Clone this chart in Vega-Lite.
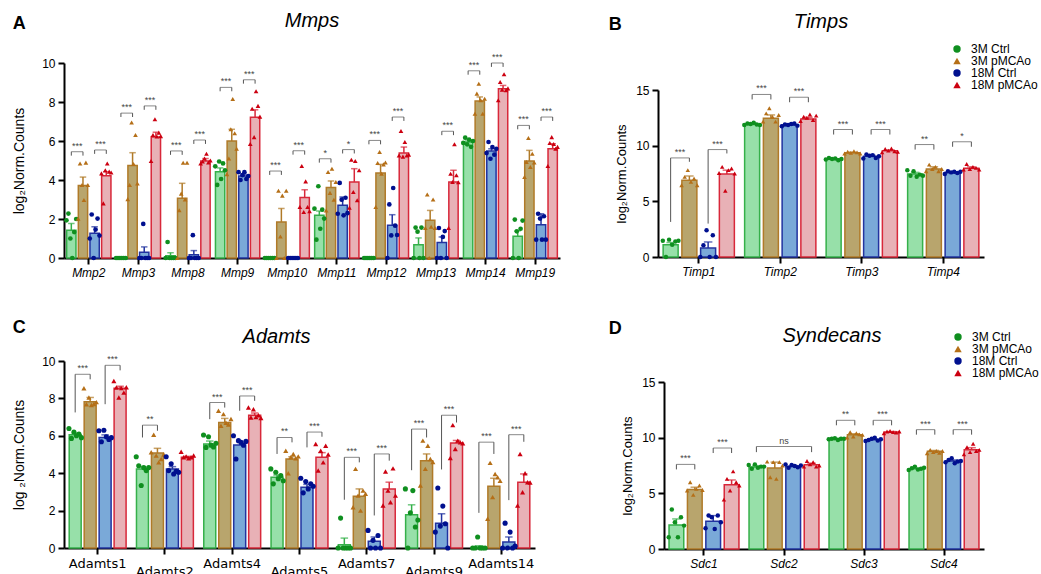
{
"$schema":"https://vega.github.io/schema/vega-lite/v6.json",
"background":"white",
"padding":{"left":12,"top":11,"right":0,"bottom":0},
"config":{
 "font":"Liberation Sans",
 "view":{"stroke":null},
 "axis":{"domainColor":"#000","domainWidth":2,"tickColor":"#000","tickWidth":2,"tickSize":6,"labelColor":"#000","titleColor":"#000","labelFont":"Liberation Sans","titleFont":"Liberation Sans","titleFontWeight":"normal","grid":false,"labelFontSize":12,"labelOverlap":false},
 "legend":{"labelFont":"Liberation Sans","labelFontSize":12,"labelColor":"#000","symbolStrokeWidth":0,"symbolSize":55,"labelOffset":8},
 "title":{"font":"Liberation Sans","color":"#000"}
},
"datasets":{
"bars":[
{"p":"A","g":"Mmp2","grp":"3M Ctrl","m":1.42,"hi":1.77,"v":[1.93,2.28,1.0,0,1.33,2.0]},
{"p":"A","g":"Mmp2","grp":"3M pMCAo","m":3.72,"hi":4.15,"v":[2.02,4.85,3.74,2.97,4.89,3.74]},
{"p":"A","g":"Mmp2","grp":"18M Ctrl","m":1.27,"hi":1.6,"v":[1.0,2.23,0,1.46,2.02,1.15]},
{"p":"A","g":"Mmp2","grp":"18M pMCAo","m":4.22,"hi":4.42,"v":[4.34,2.8,4.5,4.85,4.43,4.38]},
{"p":"A","g":"Mmp3","grp":"3M Ctrl","m":0,"hi":0,"v":[0,0,0,0,0,0]},
{"p":"A","g":"Mmp3","grp":"3M pMCAo","m":4.75,"hi":5.4,"v":[3.02,3.74,6.95,4.82,6.31,3.82]},
{"p":"A","g":"Mmp3","grp":"18M Ctrl","m":0.29,"hi":0.57,"v":[0,0,1.75,0,0,0]},
{"p":"A","g":"Mmp3","grp":"18M pMCAo","m":6.2,"hi":6.45,"v":[4.97,6.31,7.12,6.23,6.43,6.25]},
{"p":"A","g":"Mmp8","grp":"3M Ctrl","m":0.12,"hi":0.27,"v":[0,0.82,0,0,0,0]},
{"p":"A","g":"Mmp8","grp":"3M pMCAo","m":3.07,"hi":3.83,"v":[0,2.45,3.3,4.88,3.0,4.88]},
{"p":"A","g":"Mmp8","grp":"18M Ctrl","m":0.17,"hi":0.38,"v":[0,0,1.17,0,0,0]},
{"p":"A","g":"Mmp8","grp":"18M pMCAo","m":4.97,"hi":5.1,"v":[4.85,4.95,5.1,5.35,4.9,5.0]},
{"p":"A","g":"Mmp9","grp":"3M Ctrl","m":4.42,"hi":4.62,"v":[4.7,3.75,4.95,4.05,4.85,4.5]},
{"p":"A","g":"Mmp9","grp":"3M pMCAo","m":6.0,"hi":6.6,"v":[4.3,5.1,6.6,8.15,6.4,5.6]},
{"p":"A","g":"Mmp9","grp":"18M Ctrl","m":4.2,"hi":4.3,"v":[4.4,4.0,4.25,4.4,4.05,4.2]},
{"p":"A","g":"Mmp9","grp":"18M pMCAo","m":7.22,"hi":7.6,"v":[5.85,7.65,6.2,8.55,7.8,7.25]},
{"p":"A","g":"Mmp10","grp":"3M Ctrl","m":0,"hi":0,"v":[0,0,0,0,0,0]},
{"p":"A","g":"Mmp10","grp":"3M pMCAo","m":1.85,"hi":2.54,"v":[0,3.45,1.1,3.2,0,3.45]},
{"p":"A","g":"Mmp10","grp":"18M Ctrl","m":0,"hi":0,"v":[0,0,0,0,0,0]},
{"p":"A","g":"Mmp10","grp":"18M pMCAo","m":3.1,"hi":3.5,"v":[2.62,4.72,2.36,3.93,2.62,2.4]},
{"p":"A","g":"Mmp11","grp":"3M Ctrl","m":2.19,"hi":2.41,"v":[2.53,0.94,3.68,1.5,2.48,2.02]},
{"p":"A","g":"Mmp11","grp":"3M pMCAo","m":3.61,"hi":3.95,"v":[2.44,4.41,3.34,4.58,2.99,3.9]},
{"p":"A","g":"Mmp11","grp":"18M Ctrl","m":2.7,"hi":3.13,"v":[2.27,3.85,2.99,2.19,3.09,2.3]},
{"p":"A","g":"Mmp11","grp":"18M pMCAo","m":3.9,"hi":4.58,"v":[2.58,5.04,3.38,4.97,2.96,4.5]},
{"p":"A","g":"Mmp12","grp":"3M Ctrl","m":0,"hi":0,"v":[0,0,0,0,0,0]},
{"p":"A","g":"Mmp12","grp":"3M pMCAo","m":4.36,"hi":4.8,"v":[2.62,4.87,5.44,4.32,4.8,4.9]},
{"p":"A","g":"Mmp12","grp":"18M Ctrl","m":1.68,"hi":2.22,"v":[0,2.75,1.16,3.59,1.66,1.18]},
{"p":"A","g":"Mmp12","grp":"18M pMCAo","m":5.38,"hi":5.69,"v":[5.26,6.51,5.2,5.95,5.26,5.3]},
{"p":"A","g":"Mmp13","grp":"3M Ctrl","m":0.68,"hi":1.03,"v":[0,1.56,1.35,0,1.56,0]},
{"p":"A","g":"Mmp13","grp":"3M pMCAo","m":1.93,"hi":2.44,"v":[1.54,3.26,0,1.6,3.0,1.54]},
{"p":"A","g":"Mmp13","grp":"18M Ctrl","m":0.79,"hi":1.08,"v":[0,1.54,0,1.08,1.38,0]},
{"p":"A","g":"Mmp13","grp":"18M pMCAo","m":3.9,"hi":4.5,"v":[1.54,4.32,3.9,5.83,4.24,3.88]},
{"p":"A","g":"Mmp14","grp":"3M Ctrl","m":5.95,"hi":6.05,"v":[5.9,6.17,5.83,6.07,5.7,6.0]},
{"p":"A","g":"Mmp14","grp":"3M pMCAo","m":8.05,"hi":8.26,"v":[7.4,8.43,8.94,8.09,7.4,8.17]},
{"p":"A","g":"Mmp14","grp":"18M Ctrl","m":5.49,"hi":5.6,"v":[5.38,5.95,5.09,5.69,5.3,5.6]},
{"p":"A","g":"Mmp14","grp":"18M pMCAo","m":8.68,"hi":8.85,"v":[8.09,9.03,8.63,9.42,8.6,8.7]},
{"p":"A","g":"Mmp19","grp":"3M Ctrl","m":1.11,"hi":1.4,"v":[0,1.97,1.37,0,1.5,1.92]},
{"p":"A","g":"Mmp19","grp":"3M pMCAo","m":4.97,"hi":5.52,"v":[4.15,4.92,6.15,4.67,5.35,4.9]},
{"p":"A","g":"Mmp19","grp":"18M Ctrl","m":1.71,"hi":2.27,"v":[0.94,2.27,2.02,0.94,2.14,0.94]},
{"p":"A","g":"Mmp19","grp":"18M pMCAo","m":5.6,"hi":5.86,"v":[4.72,5.9,6.2,5.85,5.6,5.7]},
{"p":"B","g":"Timp1","grp":"3M Ctrl","m":1.1,"hi":1.3,"v":[1.45,0,1.56,1.1,1.4,1.45]},
{"p":"B","g":"Timp1","grp":"3M pMCAo","m":6.9,"hi":7.27,"v":[6.45,7.2,7.8,6.75,7.05,6.45]},
{"p":"B","g":"Timp1","grp":"18M Ctrl","m":0.8,"hi":1.35,"v":[0,1.05,2.4,0,1.95,0]},
{"p":"B","g":"Timp1","grp":"18M pMCAo","m":7.45,"hi":7.8,"v":[7.55,8.1,5.95,7.8,7.95,7.5]},
{"p":"B","g":"Timp2","grp":"3M Ctrl","m":11.9,"hi":12.0,"v":[11.85,12.0,11.95,12.05,11.9,11.85]},
{"p":"B","g":"Timp2","grp":"3M pMCAo","m":12.46,"hi":12.76,"v":[12.16,12.9,13.36,12.6,12.16,12.75]},
{"p":"B","g":"Timp2","grp":"18M Ctrl","m":11.85,"hi":11.95,"v":[11.75,11.9,11.85,11.95,12.0,11.8]},
{"p":"B","g":"Timp2","grp":"18M pMCAo","m":12.4,"hi":12.55,"v":[12.2,12.6,12.5,12.8,12.3,12.7]},
{"p":"B","g":"Timp3","grp":"3M Ctrl","m":8.8,"hi":8.85,"v":[8.75,8.9,8.8,8.85,8.7,8.8]},
{"p":"B","g":"Timp3","grp":"3M pMCAo","m":9.37,"hi":9.42,"v":[9.3,9.45,9.35,9.5,9.4,9.3]},
{"p":"B","g":"Timp3","grp":"18M Ctrl","m":9.05,"hi":9.15,"v":[8.85,9.2,9.1,9.15,8.9,9.05]},
{"p":"B","g":"Timp3","grp":"18M pMCAo","m":9.55,"hi":9.62,"v":[9.4,9.7,9.55,9.75,9.5,9.45]},
{"p":"B","g":"Timp4","grp":"3M Ctrl","m":7.45,"hi":7.6,"v":[7.8,7.3,7.7,7.2,7.4,7.3]},
{"p":"B","g":"Timp4","grp":"3M pMCAo","m":7.9,"hi":8.1,"v":[7.7,8.3,7.9,8.1,7.7,7.9]},
{"p":"B","g":"Timp4","grp":"18M Ctrl","m":7.6,"hi":7.65,"v":[7.45,7.7,7.6,7.65,7.55,7.65]},
{"p":"B","g":"Timp4","grp":"18M pMCAo","m":7.98,"hi":8.1,"v":[7.85,8.35,7.9,8.1,8.0,7.85]},
{"p":"C","g":"Adamts1","grp":"3M Ctrl","m":6.06,"hi":6.15,"v":[6.39,5.86,6.2,6.0,6.1,5.9]},
{"p":"C","g":"Adamts1","grp":"3M pMCAo","m":7.82,"hi":8.05,"v":[8.54,7.69,8.05,7.65,7.7,7.8]},
{"p":"C","g":"Adamts1","grp":"18M Ctrl","m":5.91,"hi":6.05,"v":[6.27,5.68,6.3,5.95,5.8,5.9]},
{"p":"C","g":"Adamts1","grp":"18M pMCAo","m":8.54,"hi":8.65,"v":[8.93,8.58,8.05,8.55,8.31,8.6]},
{"p":"C","g":"Adamts2","grp":"3M Ctrl","m":4.23,"hi":4.35,"v":[4.88,4.4,3.34,4.3,4.14,4.3]},
{"p":"C","g":"Adamts2","grp":"3M pMCAo","m":5.08,"hi":5.33,"v":[5.12,6.06,4.94,4.58,4.76,5.0]},
{"p":"C","g":"Adamts2","grp":"18M Ctrl","m":4.23,"hi":4.35,"v":[4.88,4.14,4.5,3.96,4.1,4.05]},
{"p":"C","g":"Adamts2","grp":"18M pMCAo","m":4.85,"hi":4.9,"v":[5.15,4.85,4.9,4.8,4.85,4.95]},
{"p":"C","g":"Adamts4","grp":"3M Ctrl","m":5.56,"hi":5.72,"v":[6.04,5.38,5.95,5.5,5.4,5.6]},
{"p":"C","g":"Adamts4","grp":"3M pMCAo","m":6.71,"hi":6.93,"v":[7.34,6.54,7.16,6.7,6.6,6.9]},
{"p":"C","g":"Adamts4","grp":"18M Ctrl","m":5.51,"hi":5.7,"v":[6.0,4.76,5.74,5.65,5.5,5.7]},
{"p":"C","g":"Adamts4","grp":"18M pMCAo","m":7.1,"hi":7.22,"v":[7.51,6.98,7.42,7.0,7.1,6.95]},
{"p":"C","g":"Adamts5","grp":"3M Ctrl","m":3.78,"hi":3.9,"v":[4.23,3.43,4.05,3.7,3.87,3.6]},
{"p":"C","g":"Adamts5","grp":"3M pMCAo","m":4.76,"hi":4.88,"v":[5.2,4.0,4.85,5.03,4.8,4.9]},
{"p":"C","g":"Adamts5","grp":"18M Ctrl","m":3.25,"hi":3.4,"v":[3.73,2.95,3.55,3.16,3.43,3.3]},
{"p":"C","g":"Adamts5","grp":"18M pMCAo","m":4.85,"hi":5.1,"v":[5.56,4.14,5.2,4.58,5.47,5.0]},
{"p":"C","g":"Adamts7","grp":"3M Ctrl","m":0.18,"hi":0.53,"v":[0,1.6,0,0,0,0]},
{"p":"C","g":"Adamts7","grp":"3M pMCAo","m":2.77,"hi":3.16,"v":[2.18,4.23,2.8,2.0,3.07,2.9]},
{"p":"C","g":"Adamts7","grp":"18M Ctrl","m":0.36,"hi":0.59,"v":[0.94,0,0.41,0,0.67,0]},
{"p":"C","g":"Adamts7","grp":"18M pMCAo","m":3.16,"hi":3.52,"v":[2.27,4.09,3.07,2.45,4.26,2.8]},
{"p":"C","g":"Adamts9","grp":"3M Ctrl","m":1.78,"hi":2.31,"v":[3.16,0,1.88,3.07,1.12,1.5]},
{"p":"C","g":"Adamts9","grp":"3M pMCAo","m":4.67,"hi":5.03,"v":[3.34,5.74,4.23,5.47,4.76,4.6]},
{"p":"C","g":"Adamts9","grp":"18M Ctrl","m":1.33,"hi":1.83,"v":[0.85,3.21,1.17,2.24,1.3,0]},
{"p":"C","g":"Adamts9","grp":"18M pMCAo","m":5.61,"hi":5.75,"v":[4.81,6.57,5.29,5.74,5.65,5.6]},
{"p":"C","g":"Adamts14","grp":"3M Ctrl","m":0.05,"hi":0.12,"v":[0,0,0.59,0,0,0]},
{"p":"C","g":"Adamts14","grp":"3M pMCAo","m":3.3,"hi":3.73,"v":[1.56,4.55,2.72,3.96,3.78,3.6]},
{"p":"C","g":"Adamts14","grp":"18M Ctrl","m":0.32,"hi":0.59,"v":[0,1.33,0,0.85,0,0.1]},
{"p":"C","g":"Adamts14","grp":"18M pMCAo","m":3.52,"hi":3.96,"v":[2.27,5.03,2.98,4.0,3.52,3.5]},
{"p":"D","g":"Sdc1","grp":"3M Ctrl","m":2.16,"hi":2.7,"v":[1.05,3.54,2.4,1.05,2.85,2.1]},
{"p":"D","g":"Sdc1","grp":"3M pMCAo","m":5.35,"hi":5.55,"v":[5.25,6.0,4.86,5.4,5.7,5.3]},
{"p":"D","g":"Sdc1","grp":"18M Ctrl","m":2.49,"hi":3.0,"v":[1.86,3.0,2.85,1.8,3.0,2.4]},
{"p":"D","g":"Sdc1","grp":"18M pMCAo","m":5.77,"hi":6.2,"v":[4.44,6.3,5.25,6.97,6.0,5.7]},
{"p":"D","g":"Sdc2","grp":"3M Ctrl","m":7.36,"hi":7.48,"v":[7.55,7.2,7.6,7.3,7.4,7.4]},
{"p":"D","g":"Sdc2","grp":"3M pMCAo","m":7.27,"hi":7.8,"v":[7.85,6.45,7.8,6.3,7.8,7.5]},
{"p":"D","g":"Sdc2","grp":"18M Ctrl","m":7.42,"hi":7.5,"v":[7.6,7.3,7.55,7.45,7.35,7.5]},
{"p":"D","g":"Sdc2","grp":"18M pMCAo","m":7.57,"hi":7.7,"v":[7.4,7.9,7.6,7.8,7.4,7.5]},
{"p":"D","g":"Sdc3","grp":"3M Ctrl","m":9.9,"hi":9.95,"v":[9.85,9.9,9.95,9.8,9.9,9.9]},
{"p":"D","g":"Sdc3","grp":"3M pMCAo","m":10.27,"hi":10.35,"v":[10.0,10.5,10.1,10.4,10.3,10.25]},
{"p":"D","g":"Sdc3","grp":"18M Ctrl","m":9.82,"hi":9.9,"v":[9.7,9.8,9.9,10.0,9.75,9.85]},
{"p":"D","g":"Sdc3","grp":"18M pMCAo","m":10.5,"hi":10.55,"v":[10.4,10.55,10.6,10.5,10.45,10.55]},
{"p":"D","g":"Sdc4","grp":"3M Ctrl","m":7.2,"hi":7.25,"v":[7.1,7.25,7.4,7.15,7.2,7.3]},
{"p":"D","g":"Sdc4","grp":"3M pMCAo","m":8.77,"hi":8.85,"v":[8.6,8.9,8.7,8.8,8.65,8.8]},
{"p":"D","g":"Sdc4","grp":"18M Ctrl","m":7.9,"hi":8.0,"v":[7.8,8.0,8.15,7.7,7.85,7.9]},
{"p":"D","g":"Sdc4","grp":"18M pMCAo","m":8.92,"hi":9.1,"v":[8.5,9.15,8.7,9.45,8.8,8.9]}
],
"legs":[
{"p":"A","g":"Mmp2","grp":"3M Ctrl","t":5.45,"b":5.25},{"p":"A","g":"Mmp2","grp":"3M pMCAo","t":5.45,"b":5.25},
{"p":"A","g":"Mmp2","grp":"18M Ctrl","t":5.54,"b":5.34},{"p":"A","g":"Mmp2","grp":"18M pMCAo","t":5.54,"b":5.34},
{"p":"A","g":"Mmp3","grp":"3M Ctrl","t":7.43,"b":7.23},{"p":"A","g":"Mmp3","grp":"3M pMCAo","t":7.43,"b":7.23},
{"p":"A","g":"Mmp3","grp":"18M Ctrl","t":7.8,"b":7.6},{"p":"A","g":"Mmp3","grp":"18M pMCAo","t":7.8,"b":7.6},
{"p":"A","g":"Mmp8","grp":"3M Ctrl","t":5.49,"b":5.29},{"p":"A","g":"Mmp8","grp":"3M pMCAo","t":5.49,"b":5.29},
{"p":"A","g":"Mmp8","grp":"18M Ctrl","t":6.05,"b":5.85},{"p":"A","g":"Mmp8","grp":"18M pMCAo","t":6.05,"b":5.85},
{"p":"A","g":"Mmp9","grp":"3M Ctrl","t":8.75,"b":8.55},{"p":"A","g":"Mmp9","grp":"3M pMCAo","t":8.75,"b":8.55},
{"p":"A","g":"Mmp9","grp":"18M Ctrl","t":9.14,"b":8.94},{"p":"A","g":"Mmp9","grp":"18M pMCAo","t":9.14,"b":8.94},
{"p":"A","g":"Mmp10","grp":"3M Ctrl","t":4.46,"b":4.26},{"p":"A","g":"Mmp10","grp":"3M pMCAo","t":4.46,"b":4.26},
{"p":"A","g":"Mmp10","grp":"18M Ctrl","t":5.5,"b":5.3},{"p":"A","g":"Mmp10","grp":"18M pMCAo","t":5.5,"b":5.3},
{"p":"A","g":"Mmp11","grp":"3M Ctrl","t":5.09,"b":4.89},{"p":"A","g":"Mmp11","grp":"3M pMCAo","t":5.09,"b":4.89},
{"p":"A","g":"Mmp11","grp":"18M Ctrl","t":5.56,"b":5.36},{"p":"A","g":"Mmp11","grp":"18M pMCAo","t":5.56,"b":5.36},
{"p":"A","g":"Mmp12","grp":"3M Ctrl","t":6.03,"b":5.83},{"p":"A","g":"Mmp12","grp":"3M pMCAo","t":6.03,"b":5.83},
{"p":"A","g":"Mmp12","grp":"18M Ctrl","t":7.23,"b":7.03},{"p":"A","g":"Mmp12","grp":"18M pMCAo","t":7.23,"b":7.03},
{"p":"A","g":"Mmp13","grp":"18M Ctrl","t":6.5,"b":6.3},{"p":"A","g":"Mmp13","grp":"18M pMCAo","t":6.5,"b":6.3},
{"p":"A","g":"Mmp14","grp":"3M Ctrl","t":9.6,"b":9.4},{"p":"A","g":"Mmp14","grp":"3M pMCAo","t":9.6,"b":9.4},
{"p":"A","g":"Mmp14","grp":"18M Ctrl","t":10.0,"b":9.8},{"p":"A","g":"Mmp14","grp":"18M pMCAo","t":10.0,"b":9.8},
{"p":"A","g":"Mmp19","grp":"3M Ctrl","t":6.8,"b":6.6},{"p":"A","g":"Mmp19","grp":"3M pMCAo","t":6.8,"b":6.6},
{"p":"A","g":"Mmp19","grp":"18M Ctrl","t":7.23,"b":7.03},{"p":"A","g":"Mmp19","grp":"18M pMCAo","t":7.23,"b":7.03},
{"p":"B","g":"Timp1","grp":"3M Ctrl","t":8.9,"b":3.15},{"p":"B","g":"Timp1","grp":"3M pMCAo","t":8.9,"b":8.55},
{"p":"B","g":"Timp1","grp":"18M Ctrl","t":9.65,"b":3.0},{"p":"B","g":"Timp1","grp":"18M pMCAo","t":9.65,"b":9.3},
{"p":"B","g":"Timp2","grp":"3M Ctrl","t":14.6,"b":14.15},{"p":"B","g":"Timp2","grp":"3M pMCAo","t":14.6,"b":14.15},
{"p":"B","g":"Timp2","grp":"18M Ctrl","t":14.35,"b":13.9},{"p":"B","g":"Timp2","grp":"18M pMCAo","t":14.35,"b":13.9},
{"p":"B","g":"Timp3","grp":"3M Ctrl","t":11.45,"b":11.0},{"p":"B","g":"Timp3","grp":"3M pMCAo","t":11.45,"b":11.0},
{"p":"B","g":"Timp3","grp":"18M Ctrl","t":11.45,"b":11.0},{"p":"B","g":"Timp3","grp":"18M pMCAo","t":11.45,"b":11.0},
{"p":"B","g":"Timp4","grp":"3M Ctrl","t":10.1,"b":9.65},{"p":"B","g":"Timp4","grp":"3M pMCAo","t":10.1,"b":9.65},
{"p":"B","g":"Timp4","grp":"18M Ctrl","t":10.35,"b":9.9},{"p":"B","g":"Timp4","grp":"18M pMCAo","t":10.35,"b":9.9},
{"p":"C","g":"Adamts1","grp":"3M Ctrl","t":9.29,"b":7.25},{"p":"C","g":"Adamts1","grp":"3M pMCAo","t":9.29,"b":9.02},
{"p":"C","g":"Adamts1","grp":"18M Ctrl","t":9.77,"b":7.69},{"p":"C","g":"Adamts1","grp":"18M pMCAo","t":9.77,"b":9.5},
{"p":"C","g":"Adamts2","grp":"3M Ctrl","t":6.57,"b":5.91},{"p":"C","g":"Adamts2","grp":"3M pMCAo","t":6.57,"b":6.27},
{"p":"C","g":"Adamts4","grp":"3M Ctrl","t":7.78,"b":6.89},{"p":"C","g":"Adamts4","grp":"3M pMCAo","t":7.78,"b":7.51},
{"p":"C","g":"Adamts4","grp":"18M Ctrl","t":8.13,"b":7.34},{"p":"C","g":"Adamts4","grp":"18M pMCAo","t":8.13,"b":7.87},
{"p":"C","g":"Adamts5","grp":"3M Ctrl","t":5.91,"b":5.03},{"p":"C","g":"Adamts5","grp":"3M pMCAo","t":5.91,"b":5.65},
{"p":"C","g":"Adamts5","grp":"18M Ctrl","t":6.2,"b":5.38},{"p":"C","g":"Adamts5","grp":"18M pMCAo","t":6.2,"b":5.95},
{"p":"C","g":"Adamts7","grp":"3M Ctrl","t":4.85,"b":2.58},{"p":"C","g":"Adamts7","grp":"3M pMCAo","t":4.85,"b":4.58},
{"p":"C","g":"Adamts7","grp":"18M Ctrl","t":5.03,"b":1.74},{"p":"C","g":"Adamts7","grp":"18M pMCAo","t":5.03,"b":4.67},
{"p":"C","g":"Adamts9","grp":"3M Ctrl","t":6.36,"b":4.16},{"p":"C","g":"Adamts9","grp":"3M pMCAo","t":6.36,"b":5.91},
{"p":"C","g":"Adamts9","grp":"18M Ctrl","t":7.1,"b":4.2},{"p":"C","g":"Adamts9","grp":"18M pMCAo","t":7.1,"b":6.71},
{"p":"C","g":"Adamts14","grp":"3M Ctrl","t":5.66,"b":1.88},{"p":"C","g":"Adamts14","grp":"3M pMCAo","t":5.66,"b":5.03},
{"p":"C","g":"Adamts14","grp":"18M Ctrl","t":6.06,"b":2.56},{"p":"C","g":"Adamts14","grp":"18M pMCAo","t":6.06,"b":5.68},
{"p":"D","g":"Sdc1","grp":"3M Ctrl","t":7.6,"b":7.15},{"p":"D","g":"Sdc1","grp":"3M pMCAo","t":7.6,"b":7.15},
{"p":"D","g":"Sdc1","grp":"18M Ctrl","t":9.07,"b":8.62},{"p":"D","g":"Sdc1","grp":"18M pMCAo","t":9.07,"b":8.62},
{"p":"D","g":"Sdc2","grp":"3M Ctrl","t":9.2,"b":8.7},{"p":"D","g":"Sdc2","grp":"18M pMCAo","t":9.2,"b":8.7},
{"p":"D","g":"Sdc3","grp":"3M Ctrl","t":11.56,"b":11.11},{"p":"D","g":"Sdc3","grp":"3M pMCAo","t":11.56,"b":11.11},
{"p":"D","g":"Sdc3","grp":"18M Ctrl","t":11.56,"b":11.11},{"p":"D","g":"Sdc3","grp":"18M pMCAo","t":11.56,"b":11.11},
{"p":"D","g":"Sdc4","grp":"3M Ctrl","t":10.72,"b":10.27},{"p":"D","g":"Sdc4","grp":"3M pMCAo","t":10.72,"b":10.27},
{"p":"D","g":"Sdc4","grp":"18M Ctrl","t":10.72,"b":10.27},{"p":"D","g":"Sdc4","grp":"18M pMCAo","t":10.72,"b":10.27}
],
"brk":[
{"p":"A","g":"Mmp2","s":"L","y":5.45,"lab":"***"},{"p":"A","g":"Mmp2","s":"R","y":5.54,"lab":"***"},
{"p":"A","g":"Mmp3","s":"L","y":7.43,"lab":"***"},{"p":"A","g":"Mmp3","s":"R","y":7.8,"lab":"***"},
{"p":"A","g":"Mmp8","s":"L","y":5.49,"lab":"***"},{"p":"A","g":"Mmp8","s":"R","y":6.05,"lab":"***"},
{"p":"A","g":"Mmp9","s":"L","y":8.75,"lab":"***"},{"p":"A","g":"Mmp9","s":"R","y":9.14,"lab":"***"},
{"p":"A","g":"Mmp10","s":"L","y":4.46,"lab":"***"},{"p":"A","g":"Mmp10","s":"R","y":5.5,"lab":"***"},
{"p":"A","g":"Mmp11","s":"L","y":5.09,"lab":"*"},{"p":"A","g":"Mmp11","s":"R","y":5.56,"lab":"*"},
{"p":"A","g":"Mmp12","s":"L","y":6.03,"lab":"***"},{"p":"A","g":"Mmp12","s":"R","y":7.23,"lab":"***"},
{"p":"A","g":"Mmp13","s":"R","y":6.5,"lab":"***"},
{"p":"A","g":"Mmp14","s":"L","y":9.6,"lab":"***"},{"p":"A","g":"Mmp14","s":"R","y":10.0,"lab":"***"},
{"p":"A","g":"Mmp19","s":"L","y":6.8,"lab":"***"},{"p":"A","g":"Mmp19","s":"R","y":7.23,"lab":"***"},
{"p":"B","g":"Timp1","s":"L","y":8.9,"lab":"***"},{"p":"B","g":"Timp1","s":"R","y":9.65,"lab":"***"},
{"p":"B","g":"Timp2","s":"L","y":14.6,"lab":"***"},{"p":"B","g":"Timp2","s":"R","y":14.35,"lab":"***"},
{"p":"B","g":"Timp3","s":"L","y":11.45,"lab":"***"},{"p":"B","g":"Timp3","s":"R","y":11.45,"lab":"***"},
{"p":"B","g":"Timp4","s":"L","y":10.1,"lab":"**"},{"p":"B","g":"Timp4","s":"R","y":10.35,"lab":"*"},
{"p":"C","g":"Adamts1","s":"L","y":9.29,"lab":"***"},{"p":"C","g":"Adamts1","s":"R","y":9.77,"lab":"***"},
{"p":"C","g":"Adamts2","s":"L","y":6.57,"lab":"**"},
{"p":"C","g":"Adamts4","s":"L","y":7.78,"lab":"***"},{"p":"C","g":"Adamts4","s":"R","y":8.13,"lab":"***"},
{"p":"C","g":"Adamts5","s":"L","y":5.91,"lab":"**"},{"p":"C","g":"Adamts5","s":"R","y":6.2,"lab":"***"},
{"p":"C","g":"Adamts7","s":"L","y":4.85,"lab":"***"},{"p":"C","g":"Adamts7","s":"R","y":5.03,"lab":"***"},
{"p":"C","g":"Adamts9","s":"L","y":6.36,"lab":"***"},{"p":"C","g":"Adamts9","s":"R","y":7.1,"lab":"***"},
{"p":"C","g":"Adamts14","s":"L","y":5.66,"lab":"***"},{"p":"C","g":"Adamts14","s":"R","y":6.06,"lab":"***"},
{"p":"D","g":"Sdc1","s":"L","y":7.6,"lab":"***"},{"p":"D","g":"Sdc1","s":"R","y":9.07,"lab":"***"},
{"p":"D","g":"Sdc2","s":"M","y":9.2,"lab":"ns"},
{"p":"D","g":"Sdc3","s":"L","y":11.56,"lab":"**"},{"p":"D","g":"Sdc3","s":"R","y":11.56,"lab":"***"},
{"p":"D","g":"Sdc4","s":"L","y":10.72,"lab":"***"},{"p":"D","g":"Sdc4","s":"R","y":10.72,"lab":"***"}
]
},
"spacing":41,
"resolve":{"scale":{"color":"independent","shape":"independent","fill":"independent","stroke":"independent"}},
"vconcat":[
{"spacing":48,
 "resolve":{"scale":{"color":"independent","shape":"independent","fill":"independent","stroke":"independent"}},
 "hconcat":[
 {"title":{"text":"A","anchor":"start","fontSize":18,"fontWeight":"bold","offset":0,"dy":22},
  "resolve":{"scale":{"color":"independent","shape":"independent","fill":"independent","stroke":"independent"}},
  "vconcat":[{
  "width":496,"height":195,
  "title":{"text":"Mmps","fontSize":20,"fontStyle":"italic","fontWeight":"normal","frame":"group","anchor":"middle","offset":22},
  "resolve":{"scale":{"xOffset":"independent"}},
  "layer":[
   {"data":{"name":"bars"},"transform":[{"filter":"datum.p==='A'"}],"mark":{"type":"bar","strokeWidth":1.5},
    "encoding":{
     "x":{"field":"g","type":"nominal","scale":{"domain":["Mmp2","Mmp3","Mmp8","Mmp9","Mmp10","Mmp11","Mmp12","Mmp13","Mmp14","Mmp19"],"paddingInner":0.06,"paddingOuter":0.03},"axis":{"title":null,"labelAngle":0,"labelFontStyle":"italic","labelFontSize":12,"labelPadding":3}},
     "xOffset":{"field":"grp","type":"nominal","scale":{"type":"band","domain":["3M Ctrl","3M pMCAo","18M Ctrl","18M pMCAo"],"paddingInner":0.2,"paddingOuter":0.1}},
     "y":{"field":"m","type":"quantitative","scale":{"domain":[0,10],"nice":false},"axis":{"title":"log₂Norm.Counts","titleFontSize":14,"values":[0,2,4,6,8,10],"tickCount":6,"labelOverlap":false,"labelPadding":3,"titlePadding":15}},
     "fill":{"field":"grp","type":"nominal","scale":{"range":["#7aa9d8","#e8b1b6","#97e0a9","#b8a56d"]},"legend":null},
     "stroke":{"field":"grp","type":"nominal","scale":{"range":["#2233a0","#d8283a","#35b04a","#b07a28"]},"legend":null}}},
   {"data":{"name":"bars"},"transform":[{"filter":"datum.p==='A'"}],"mark":{"type":"rule","strokeWidth":1.5},
    "encoding":{"x":{"field":"g","type":"nominal"},
     "xOffset":{"field":"grp","type":"nominal","scale":{"type":"band","domain":["3M Ctrl","3M pMCAo","18M Ctrl","18M pMCAo"],"paddingInner":0.2,"paddingOuter":0.1}},
     "y":{"field":"m","type":"quantitative"},"y2":{"field":"hi"},
     "stroke":{"field":"grp","type":"nominal","legend":null}}},
   {"data":{"name":"bars"},"transform":[{"filter":"datum.p==='A'"}],"mark":{"type":"tick","orient":"horizontal","size":5,"thickness":0.01,"filled":false,"strokeWidth":1.5},
    "encoding":{"x":{"field":"g","type":"nominal"},
     "xOffset":{"field":"grp","type":"nominal","scale":{"type":"band","domain":["3M Ctrl","3M pMCAo","18M Ctrl","18M pMCAo"],"paddingInner":0.2,"paddingOuter":0.1}},
     "y":{"field":"hi","type":"quantitative"},
     "stroke":{"field":"grp","type":"nominal","legend":null}}},
   {"data":{"name":"bars"},"transform":[{"filter":"datum.p==='A'"},{"flatten":["v"]},{"window":[{"op":"row_number","as":"i"}],"groupby":["g","grp"]},{"calculate":"indexof(['3M Ctrl','3M pMCAo','18M Ctrl','18M pMCAo'],datum.grp)*6+datum.i","as":"slot"}],
    "mark":{"type":"point","filled":true,"size":22,"opacity":1},
    "encoding":{"x":{"field":"g","type":"nominal"},
     "xOffset":{"field":"slot","type":"ordinal","scale":{"type":"band","paddingInner":0,"paddingOuter":0}},
     "y":{"field":"v","type":"quantitative"},
     "color":{"field":"grp","type":"nominal","scale":{"domain":["3M Ctrl","3M pMCAo","18M Ctrl","18M pMCAo"],"range":["#0f8f1f","#b56f17","#00108f","#cc0010"]},"legend":null},
     "shape":{"field":"grp","type":"nominal","scale":{"domain":["3M Ctrl","3M pMCAo","18M Ctrl","18M pMCAo"],"range":["circle","triangle-up","circle","triangle-up"]},"legend":null}}},
   {"data":{"name":"legs"},"transform":[{"filter":"datum.p==='A'"}],"mark":{"type":"rule","color":"#555","strokeWidth":1},
    "encoding":{"x":{"field":"g","type":"nominal"},
     "xOffset":{"field":"grp","type":"nominal","scale":{"type":"band","domain":["3M Ctrl","3M pMCAo","18M Ctrl","18M pMCAo"],"paddingInner":0.2,"paddingOuter":0.1}},
     "y":{"field":"t","type":"quantitative"},"y2":{"field":"b"}}},
   {"data":{"name":"brk"},"transform":[{"filter":"datum.p==='A' && datum.s!=='M'"}],"mark":{"type":"tick","orient":"horizontal","size":11.7,"thickness":1,"color":"#555"},
    "encoding":{"x":{"field":"g","type":"nominal"},
     "xOffset":{"field":"s","type":"nominal","scale":{"type":"band","domain":["L","R"],"paddingInner":0,"paddingOuter":0}},
     "y":{"field":"y","type":"quantitative"}}},
   {"data":{"name":"brk"},"transform":[{"filter":"datum.p==='A' && datum.s!=='M'"}],"mark":{"type":"text","fontSize":9,"color":"#444","baseline":"bottom","dy":-1},
    "encoding":{"x":{"field":"g","type":"nominal"},
     "xOffset":{"field":"s","type":"nominal","scale":{"type":"band","domain":["L","R"],"paddingInner":0,"paddingOuter":0}},
     "y":{"field":"y","type":"quantitative"},"text":{"field":"lab"}}}
  ]}]},
 {"title":{"text":"B","anchor":"start","fontSize":18,"fontWeight":"bold","offset":0,"dy":22,"dx":-7},
  "resolve":{"scale":{"color":"independent","shape":"independent","fill":"independent","stroke":"independent"}},
  "vconcat":[{
  "width":326,"height":194,
  "title":{"text":"Timps","fontSize":20,"fontStyle":"italic","fontWeight":"normal","frame":"group","anchor":"middle","offset":11},
  "resolve":{"scale":{"xOffset":"independent"}},
  "layer":[
   {"data":{"name":"bars"},"transform":[{"filter":"datum.p==='B'"}],"mark":{"type":"bar","strokeWidth":1.5},
    "encoding":{
     "x":{"field":"g","type":"nominal","scale":{"domain":["Timp1","Timp2","Timp3","Timp4"],"paddingInner":0.08,"paddingOuter":0.04},"axis":{"title":null,"labelAngle":0,"labelFontStyle":"italic","labelFontSize":12,"labelPadding":3}},
     "xOffset":{"field":"grp","type":"nominal","scale":{"type":"band","domain":["3M Ctrl","3M pMCAo","18M Ctrl","18M pMCAo"],"paddingInner":0.2,"paddingOuter":0.1}},
     "y":{"field":"m","type":"quantitative","scale":{"domain":[0,15],"nice":false,"range":[194,27]},"axis":{"title":"log₂Norm.Counts","titleFontSize":13,"values":[0,5,10,15],"labelOverlap":false,"labelPadding":3,"titlePadding":7}},
     "fill":{"field":"grp","type":"nominal","scale":{"range":["#7aa9d8","#e8b1b6","#97e0a9","#b8a56d"]},"legend":null},
     "stroke":{"field":"grp","type":"nominal","scale":{"range":["#2233a0","#d8283a","#35b04a","#b07a28"]},"legend":null}}},
   {"data":{"name":"bars"},"transform":[{"filter":"datum.p==='B'"}],"mark":{"type":"rule","strokeWidth":1.5},
    "encoding":{"x":{"field":"g","type":"nominal"},
     "xOffset":{"field":"grp","type":"nominal","scale":{"type":"band","domain":["3M Ctrl","3M pMCAo","18M Ctrl","18M pMCAo"],"paddingInner":0.2,"paddingOuter":0.1}},
     "y":{"field":"m","type":"quantitative"},"y2":{"field":"hi"},
     "stroke":{"field":"grp","type":"nominal","legend":null}}},
   {"data":{"name":"bars"},"transform":[{"filter":"datum.p==='B'"}],"mark":{"type":"tick","orient":"horizontal","size":7,"thickness":0.01,"filled":false,"strokeWidth":1.5},
    "encoding":{"x":{"field":"g","type":"nominal"},
     "xOffset":{"field":"grp","type":"nominal","scale":{"type":"band","domain":["3M Ctrl","3M pMCAo","18M Ctrl","18M pMCAo"],"paddingInner":0.2,"paddingOuter":0.1}},
     "y":{"field":"hi","type":"quantitative"},
     "stroke":{"field":"grp","type":"nominal","legend":null}}},
   {"data":{"name":"bars"},"transform":[{"filter":"datum.p==='B'"},{"flatten":["v"]},{"window":[{"op":"row_number","as":"i"}],"groupby":["g","grp"]},{"calculate":"indexof(['3M Ctrl','3M pMCAo','18M Ctrl','18M pMCAo'],datum.grp)*6+datum.i","as":"slot"}],
    "mark":{"type":"point","filled":true,"size":20,"opacity":1},
    "encoding":{"x":{"field":"g","type":"nominal"},
     "xOffset":{"field":"slot","type":"ordinal","scale":{"type":"band","paddingInner":0,"paddingOuter":0}},
     "y":{"field":"v","type":"quantitative"},
     "color":{"field":"grp","type":"nominal","scale":{"domain":["3M Ctrl","3M pMCAo","18M Ctrl","18M pMCAo"],"range":["#0f8f1f","#b56f17","#00108f","#cc0010"]},"legend":{"title":null,"orient":"none","legendX":293,"legendY":-20,"rowPadding":-1}},
     "shape":{"field":"grp","type":"nominal","scale":{"domain":["3M Ctrl","3M pMCAo","18M Ctrl","18M pMCAo"],"range":["circle","triangle-up","circle","triangle-up"]},"legend":{"title":null,"orient":"none","legendX":293,"legendY":-20,"rowPadding":-1}}}},
   {"data":{"name":"legs"},"transform":[{"filter":"datum.p==='B'"}],"mark":{"type":"rule","color":"#555","strokeWidth":1},
    "encoding":{"x":{"field":"g","type":"nominal"},
     "xOffset":{"field":"grp","type":"nominal","scale":{"type":"band","domain":["3M Ctrl","3M pMCAo","18M Ctrl","18M pMCAo"],"paddingInner":0.2,"paddingOuter":0.1}},
     "y":{"field":"t","type":"quantitative"},"y2":{"field":"b"}}},
   {"data":{"name":"brk"},"transform":[{"filter":"datum.p==='B' && datum.s!=='M'"}],"mark":{"type":"tick","orient":"horizontal","size":18.75,"thickness":1,"color":"#555"},
    "encoding":{"x":{"field":"g","type":"nominal"},
     "xOffset":{"field":"s","type":"nominal","scale":{"type":"band","domain":["L","R"],"paddingInner":0,"paddingOuter":0}},
     "y":{"field":"y","type":"quantitative"}}},
   {"data":{"name":"brk"},"transform":[{"filter":"datum.p==='B' && datum.s!=='M'"}],"mark":{"type":"text","fontSize":9,"color":"#444","baseline":"bottom","dy":-1},
    "encoding":{"x":{"field":"g","type":"nominal"},
     "xOffset":{"field":"s","type":"nominal","scale":{"type":"band","domain":["L","R"],"paddingInner":0,"paddingOuter":0}},
     "y":{"field":"y","type":"quantitative"},"text":{"field":"lab"}}}
  ]}]}
 ]},
{"spacing":73,
 "resolve":{"scale":{"color":"independent","shape":"independent","fill":"independent","stroke":"independent"}},
 "hconcat":[
 {"title":{"text":"C","anchor":"start","fontSize":18,"fontWeight":"bold","offset":0,"dy":10},
  "resolve":{"scale":{"color":"independent","shape":"independent","fill":"independent","stroke":"independent"}},
  "vconcat":[{
  "width":471,"height":187,
  "title":{"text":"Adamts","fontSize":20,"fontStyle":"italic","fontWeight":"normal","frame":"group","anchor":"middle","offset":8,"dx":-23},
  "resolve":{"scale":{"xOffset":"independent"}},
  "layer":[
   {"data":{"name":"bars"},"transform":[{"filter":"datum.p==='C'"}],"mark":{"type":"bar","strokeWidth":1.5},
    "encoding":{
     "x":{"field":"g","type":"nominal","scale":{"domain":["Adamts1","Adamts2","Adamts4","Adamts5","Adamts7","Adamts9","Adamts14"],"paddingInner":0.11,"paddingOuter":0.055},"axis":{"title":null,"labelAngle":0,"labelFont":"DejaVu Sans","labelFontSize":13,"labelPadding":{"condition":{"test":"indexof(['Adamts2','Adamts5','Adamts9'],datum.value)>=0","value":11},"value":3}}},
     "xOffset":{"field":"grp","type":"nominal","scale":{"type":"band","domain":["3M Ctrl","3M pMCAo","18M Ctrl","18M pMCAo"],"paddingInner":0.2,"paddingOuter":0.1}},
     "y":{"field":"m","type":"quantitative","scale":{"domain":[0,10],"nice":false},"axis":{"title":"log ₂Norm.Counts","titleFontSize":14,"values":[0,2,4,6,8,10],"tickCount":6,"labelOverlap":false,"labelPadding":3,"titlePadding":15}},
     "fill":{"field":"grp","type":"nominal","scale":{"range":["#7aa9d8","#e8b1b6","#97e0a9","#b8a56d"]},"legend":null},
     "stroke":{"field":"grp","type":"nominal","scale":{"range":["#2233a0","#d8283a","#35b04a","#b07a28"]},"legend":null}}},
   {"data":{"name":"bars"},"transform":[{"filter":"datum.p==='C'"}],"mark":{"type":"rule","strokeWidth":1.5},
    "encoding":{"x":{"field":"g","type":"nominal"},
     "xOffset":{"field":"grp","type":"nominal","scale":{"type":"band","domain":["3M Ctrl","3M pMCAo","18M Ctrl","18M pMCAo"],"paddingInner":0.2,"paddingOuter":0.1}},
     "y":{"field":"m","type":"quantitative"},"y2":{"field":"hi"},
     "stroke":{"field":"grp","type":"nominal","legend":null}}},
   {"data":{"name":"bars"},"transform":[{"filter":"datum.p==='C'"}],"mark":{"type":"tick","orient":"horizontal","size":6,"thickness":0.01,"filled":false,"strokeWidth":1.5},
    "encoding":{"x":{"field":"g","type":"nominal"},
     "xOffset":{"field":"grp","type":"nominal","scale":{"type":"band","domain":["3M Ctrl","3M pMCAo","18M Ctrl","18M pMCAo"],"paddingInner":0.2,"paddingOuter":0.1}},
     "y":{"field":"hi","type":"quantitative"},
     "stroke":{"field":"grp","type":"nominal","legend":null}}},
   {"data":{"name":"bars"},"transform":[{"filter":"datum.p==='C'"},{"flatten":["v"]},{"window":[{"op":"row_number","as":"i"}],"groupby":["g","grp"]},{"calculate":"indexof(['3M Ctrl','3M pMCAo','18M Ctrl','18M pMCAo'],datum.grp)*6+datum.i","as":"slot"}],
    "mark":{"type":"point","filled":true,"size":26,"opacity":1},
    "encoding":{"x":{"field":"g","type":"nominal"},
     "xOffset":{"field":"slot","type":"ordinal","scale":{"type":"band","paddingInner":0,"paddingOuter":0}},
     "y":{"field":"v","type":"quantitative"},
     "color":{"field":"grp","type":"nominal","scale":{"domain":["3M Ctrl","3M pMCAo","18M Ctrl","18M pMCAo"],"range":["#0f8f1f","#b56f17","#00108f","#cc0010"]},"legend":null},
     "shape":{"field":"grp","type":"nominal","scale":{"domain":["3M Ctrl","3M pMCAo","18M Ctrl","18M pMCAo"],"range":["circle","triangle-up","circle","triangle-up"]},"legend":null}}},
   {"data":{"name":"legs"},"transform":[{"filter":"datum.p==='C'"}],"mark":{"type":"rule","color":"#555","strokeWidth":1},
    "encoding":{"x":{"field":"g","type":"nominal"},
     "xOffset":{"field":"grp","type":"nominal","scale":{"type":"band","domain":["3M Ctrl","3M pMCAo","18M Ctrl","18M pMCAo"],"paddingInner":0.2,"paddingOuter":0.1}},
     "y":{"field":"t","type":"quantitative"},"y2":{"field":"b"}}},
   {"data":{"name":"brk"},"transform":[{"filter":"datum.p==='C' && datum.s!=='M'"}],"mark":{"type":"tick","orient":"horizontal","size":15,"thickness":1,"color":"#555"},
    "encoding":{"x":{"field":"g","type":"nominal"},
     "xOffset":{"field":"s","type":"nominal","scale":{"type":"band","domain":["L","R"],"paddingInner":0,"paddingOuter":0}},
     "y":{"field":"y","type":"quantitative"}}},
   {"data":{"name":"brk"},"transform":[{"filter":"datum.p==='C' && datum.s!=='M'"}],"mark":{"type":"text","fontSize":9,"color":"#444","baseline":"bottom","dy":-1},
    "encoding":{"x":{"field":"g","type":"nominal"},
     "xOffset":{"field":"s","type":"nominal","scale":{"type":"band","domain":["L","R"],"paddingInner":0,"paddingOuter":0}},
     "y":{"field":"y","type":"quantitative"},"text":{"field":"lab"}}}
  ]}]},
 {"title":{"text":"D","anchor":"start","fontSize":18,"fontWeight":"bold","offset":0,"dy":12,"dx":-13},
  "resolve":{"scale":{"color":"independent","shape":"independent","fill":"independent","stroke":"independent"}},
  "vconcat":[{
  "width":320,"height":188,
  "title":{"text":"Syndecans","fontSize":20,"fontStyle":"italic","fontWeight":"normal","frame":"group","anchor":"middle","offset":-15,"dx":8},
  "resolve":{"scale":{"xOffset":"independent"}},
  "layer":[
   {"data":{"name":"bars"},"transform":[{"filter":"datum.p==='D'"}],"mark":{"type":"bar","strokeWidth":1.5},
    "encoding":{
     "x":{"field":"g","type":"nominal","scale":{"domain":["Sdc1","Sdc2","Sdc3","Sdc4"],"paddingInner":0.08,"paddingOuter":0.04},"axis":{"title":null,"labelAngle":0,"labelFontStyle":"italic","labelFontSize":12,"labelPadding":3}},
     "xOffset":{"field":"grp","type":"nominal","scale":{"type":"band","domain":["3M Ctrl","3M pMCAo","18M Ctrl","18M pMCAo"],"paddingInner":0.2,"paddingOuter":0.1}},
     "y":{"field":"m","type":"quantitative","scale":{"domain":[0,15],"nice":false,"range":[188,21]},"axis":{"title":"log₂Norm.Counts","titleFontSize":13,"values":[0,5,10,15],"labelOverlap":false,"labelPadding":3,"titlePadding":7}},
     "fill":{"field":"grp","type":"nominal","scale":{"range":["#7aa9d8","#e8b1b6","#97e0a9","#b8a56d"]},"legend":null},
     "stroke":{"field":"grp","type":"nominal","scale":{"range":["#2233a0","#d8283a","#35b04a","#b07a28"]},"legend":null}}},
   {"data":{"name":"bars"},"transform":[{"filter":"datum.p==='D'"}],"mark":{"type":"rule","strokeWidth":1.5},
    "encoding":{"x":{"field":"g","type":"nominal"},
     "xOffset":{"field":"grp","type":"nominal","scale":{"type":"band","domain":["3M Ctrl","3M pMCAo","18M Ctrl","18M pMCAo"],"paddingInner":0.2,"paddingOuter":0.1}},
     "y":{"field":"m","type":"quantitative"},"y2":{"field":"hi"},
     "stroke":{"field":"grp","type":"nominal","legend":null}}},
   {"data":{"name":"bars"},"transform":[{"filter":"datum.p==='D'"}],"mark":{"type":"tick","orient":"horizontal","size":7,"thickness":0.01,"filled":false,"strokeWidth":1.5},
    "encoding":{"x":{"field":"g","type":"nominal"},
     "xOffset":{"field":"grp","type":"nominal","scale":{"type":"band","domain":["3M Ctrl","3M pMCAo","18M Ctrl","18M pMCAo"],"paddingInner":0.2,"paddingOuter":0.1}},
     "y":{"field":"hi","type":"quantitative"},
     "stroke":{"field":"grp","type":"nominal","legend":null}}},
   {"data":{"name":"bars"},"transform":[{"filter":"datum.p==='D'"},{"flatten":["v"]},{"window":[{"op":"row_number","as":"i"}],"groupby":["g","grp"]},{"calculate":"indexof(['3M Ctrl','3M pMCAo','18M Ctrl','18M pMCAo'],datum.grp)*6+datum.i","as":"slot"}],
    "mark":{"type":"point","filled":true,"size":20,"opacity":1},
    "encoding":{"x":{"field":"g","type":"nominal"},
     "xOffset":{"field":"slot","type":"ordinal","scale":{"type":"band","paddingInner":0,"paddingOuter":0}},
     "y":{"field":"v","type":"quantitative"},
     "color":{"field":"grp","type":"nominal","scale":{"domain":["3M Ctrl","3M pMCAo","18M Ctrl","18M pMCAo"],"range":["#0f8f1f","#b56f17","#00108f","#cc0010"]},"legend":{"title":null,"orient":"none","legendX":288,"legendY":-30,"rowPadding":0}},
     "shape":{"field":"grp","type":"nominal","scale":{"domain":["3M Ctrl","3M pMCAo","18M Ctrl","18M pMCAo"],"range":["circle","triangle-up","circle","triangle-up"]},"legend":{"title":null,"orient":"none","legendX":288,"legendY":-30,"rowPadding":0}}}},
   {"data":{"name":"legs"},"transform":[{"filter":"datum.p==='D'"}],"mark":{"type":"rule","color":"#555","strokeWidth":1},
    "encoding":{"x":{"field":"g","type":"nominal"},
     "xOffset":{"field":"grp","type":"nominal","scale":{"type":"band","domain":["3M Ctrl","3M pMCAo","18M Ctrl","18M pMCAo"],"paddingInner":0.2,"paddingOuter":0.1}},
     "y":{"field":"t","type":"quantitative"},"y2":{"field":"b"}}},
   {"data":{"name":"brk"},"transform":[{"filter":"datum.p==='D' && datum.s!=='M'"}],"mark":{"type":"tick","orient":"horizontal","size":18.4,"thickness":1,"color":"#555"},
    "encoding":{"x":{"field":"g","type":"nominal"},
     "xOffset":{"field":"s","type":"nominal","scale":{"type":"band","domain":["L","R"],"paddingInner":0,"paddingOuter":0}},
     "y":{"field":"y","type":"quantitative"}}},
   {"data":{"name":"brk"},"transform":[{"filter":"datum.p==='D' && datum.s!=='M'"}],"mark":{"type":"text","fontSize":9,"color":"#444","baseline":"bottom","dy":-1},
    "encoding":{"x":{"field":"g","type":"nominal"},
     "xOffset":{"field":"s","type":"nominal","scale":{"type":"band","domain":["L","R"],"paddingInner":0,"paddingOuter":0}},
     "y":{"field":"y","type":"quantitative"},"text":{"field":"lab"}}},
   {"data":{"name":"brk"},"transform":[{"filter":"datum.p==='D' && datum.s==='M'"}],"mark":{"type":"tick","orient":"horizontal","size":55.2,"thickness":1,"color":"#555"},
    "encoding":{"x":{"field":"g","type":"nominal"},"y":{"field":"y","type":"quantitative"}}},
   {"data":{"name":"brk"},"transform":[{"filter":"datum.p==='D' && datum.s==='M'"}],"mark":{"type":"text","fontSize":9,"color":"#444","baseline":"bottom","dy":-1},
    "encoding":{"x":{"field":"g","type":"nominal"},"y":{"field":"y","type":"quantitative"},"text":{"field":"lab"}}}
  ]}]}
 ]}
]
}
